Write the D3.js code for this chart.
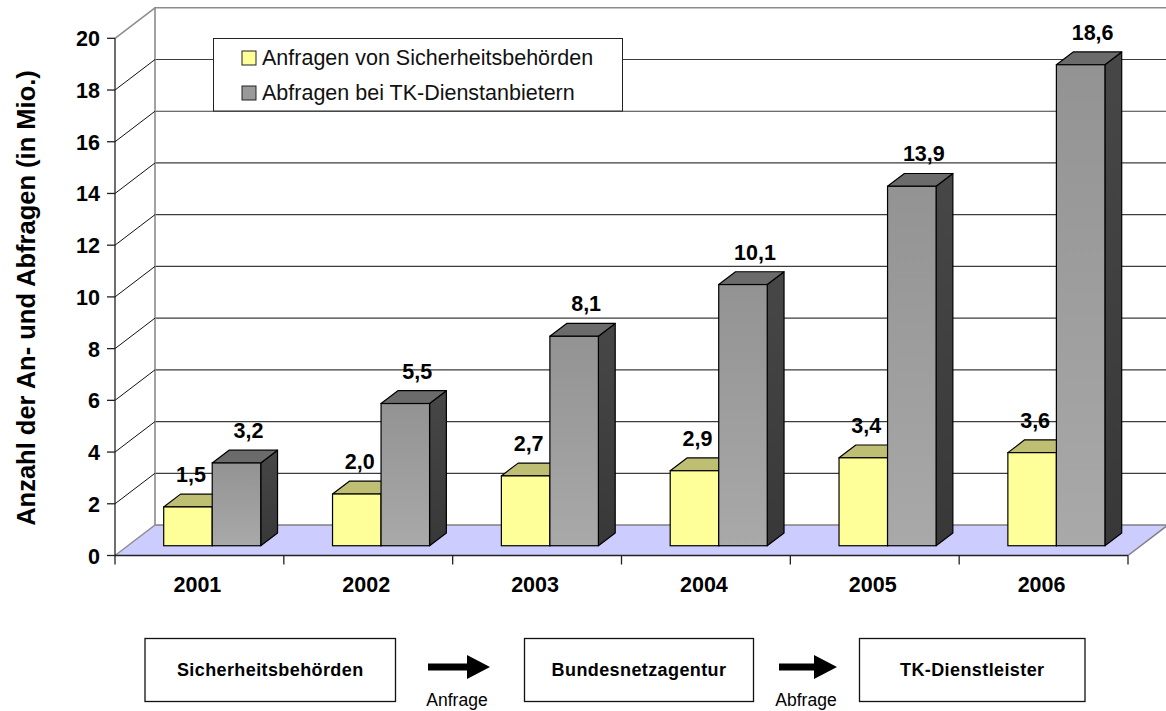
<!DOCTYPE html>
<html>
<head>
<meta charset="utf-8">
<script src="https://d3js.org/d3.v7.min.js"></script>
<style>
  body { margin: 0; background: #fff; }
  text { font-family: "Liberation Sans", Arial, sans-serif; }
</style>
</head>
<body>
<svg width="1166" height="711"></svg>
<script>
// data
const years = ['2001', '2002', '2003', '2004', '2005', '2006'];
const seriesNames = ['Anfragen von Sicherheitsbehörden', 'Abfragen bei TK-Dienstanbietern'];
const anfragen = [1.5, 2.0, 2.7, 2.9, 3.4, 3.6];
const abfragen = [3.2, 5.5, 8.1, 10.1, 13.9, 18.6];
const yTicks = [0, 2, 4, 6, 8, 10, 12, 14, 16, 18, 20];
const yTitle = 'Anzahl der An- und Abfragen (in Mio.)';
const flowBoxes = ['Sicherheitsbehörden', 'Bundesnetzagentur', 'TK-Dienstleister'];
const flowArrows = ['Anfrage', 'Abfrage'];

const svg = d3.select('svg');
const fmt = v => d3.format('.1f')(v).replace('.', ',');

// 3d projection: depth z in [0,1] shifts right and up
const DX = 40, DY = 30.5;
const proj = (x, y, z) => [x + DX * z, y - DY * z];

const x = d3.scaleBand().domain(years).range([115, 1128]).padding(0);
const xs = d3.scaleBand().domain([0, 1]).range([0, x.bandwidth()]).paddingInner(0).paddingOuter(0.74);
const y = d3.scaleLinear().domain([0, 20]).range([555.5, 38.3]);
const z0 = 0.32, z1 = 0.74;

const defs = svg.append('defs');
const gg = defs.append('linearGradient').attr('id', 'grayFront').attr('x1', 0).attr('y1', 0).attr('x2', 0).attr('y2', 1);
gg.append('stop').attr('offset', 0).attr('stop-color', '#939393');
gg.append('stop').attr('offset', 1).attr('stop-color', '#a9a9a9');
const gs = defs.append('linearGradient').attr('id', 'graySide').attr('x1', 0).attr('y1', 0).attr('x2', 0).attr('y2', 1);
gs.append('stop').attr('offset', 0).attr('stop-color', '#474747');
gs.append('stop').attr('offset', 1).attr('stop-color', '#383838');

const line = d3.line();

// floor
svg.append('path')
  .attr('d', line([proj(115, y(0), 0), proj(1128, y(0), 0), proj(1128, y(0), 1), proj(115, y(0), 1)]) + 'Z')
  .attr('fill', '#ccccff').attr('stroke', 'none');
svg.append('path').attr('d', line([proj(115, y(0), 1), proj(1128, y(0), 1)]))
  .attr('stroke', '#808080').attr('stroke-width', 1.5).attr('fill', 'none');
svg.append('path').attr('d', line([proj(1128, y(0), 0), proj(1128, y(0), 1)]))
  .attr('stroke', '#808080').attr('stroke-width', 1.5).attr('fill', 'none');

// back wall gridlines
const grid = svg.append('g');
yTicks.slice(1, -1).forEach(t => {
  grid.append('path').attr('d', line([proj(115, y(t), 1), proj(1128, y(t), 1)]))
    .attr('stroke', '#3c3c3c').attr('stroke-width', 1.2).attr('fill', 'none');
});
grid.append('path').attr('d', line([proj(115, y(0), 1), proj(115, y(20), 1), proj(1128, y(20), 1)]))
  .attr('stroke', '#8c8c8c').attr('stroke-width', 1.6).attr('fill', 'none');

// side wall depth lines
yTicks.forEach(t => {
  const gray = (t === 0 || t === 20);
  svg.append('path').attr('d', line([proj(115, y(t), 0), proj(115, y(t), 1)]))
    .attr('stroke', gray ? '#8c8c8c' : '#111').attr('stroke-width', gray ? 1.5 : 1).attr('fill', 'none');
});

// front axis
svg.append('path').attr('d', line([[115, y(20)], [115, y(0)], [1128, y(0)]]))
  .attr('stroke', '#222').attr('stroke-width', 1.3).attr('fill', 'none');
svg.append('g').selectAll('line').data(yTicks).join('line')
  .attr('x1', 107).attr('x2', 115).attr('y1', d => y(d)).attr('y2', d => y(d))
  .attr('stroke', '#222').attr('stroke-width', 1.3);
svg.append('g').selectAll('line').data(years.concat(['end'])).join('line')
  .attr('x1', (d, i) => 115 + i * x.bandwidth()).attr('x2', (d, i) => 115 + i * x.bandwidth())
  .attr('y1', y(0)).attr('y2', y(0) + 9)
  .attr('stroke', '#222').attr('stroke-width', 1.3);

svg.append('g').selectAll('text').data(yTicks).join('text')
  .attr('x', 100).attr('y', d => y(d) + 8)
  .attr('text-anchor', 'end').attr('font-weight', 'bold').attr('font-size', 21.5)
  .text(d => d);

svg.append('g').selectAll('text').data(years).join('text')
  .attr('x', d => x(d) + x.bandwidth() / 2 - 2).attr('y', 592)
  .attr('text-anchor', 'middle').attr('font-weight', 'bold').attr('font-size', 21.5)
  .text(d => d);

svg.append('text')
  .attr('transform', 'translate(35,298) rotate(-90)')
  .attr('text-anchor', 'middle').attr('font-weight', 'bold').attr('font-size', 25.5)
  .text(yTitle);

// legend (drawn over gridlines)
const lg = svg.append('g');
lg.append('rect').attr('x', 213.5).attr('y', 38.5).attr('width', 409).attr('height', 72.5)
  .attr('fill', '#fff').attr('stroke', '#222').attr('stroke-width', 1);
const legendFill = ['#ffff99', '#999999'];
seriesNames.forEach((s, i) => {
  lg.append('rect').attr('x', 242).attr('y', 51 + i * 35).attr('width', 14).attr('height', 14)
    .attr('fill', legendFill[i]).attr('stroke', '#222').attr('stroke-width', 1);
  lg.append('text').attr('x', 262).attr('y', 64.5 + i * 35).attr('font-size', 21.5).attr('fill', '#111')
    .text(s);
});

// bars
const series = [anfragen, abfragen];
const colors = [
  { front: '#ffff99', top: '#bfbf73', side: '#99994d' },
  { front: 'url(#grayFront)', top: '#6b6b6b', side: 'url(#graySide)' }
];
const bars = svg.append('g');
years.forEach((yr, i) => {
  series.forEach((vals, s) => {
    const v = vals[i];
    const xl = x(yr) + xs(s), xr = xl + xs.bandwidth();
    const c = colors[s];
    const poly = pts => line(pts) + 'Z';
    // side
    bars.append('path').attr('d', poly([proj(xr, y(0), z0), proj(xr, y(v), z0), proj(xr, y(v), z1), proj(xr, y(0), z1)]))
      .attr('fill', c.side).attr('stroke', '#000').attr('stroke-width', 1.2).attr('stroke-linejoin', 'round');
    // top
    bars.append('path').attr('d', poly([proj(xl, y(v), z0), proj(xr, y(v), z0), proj(xr, y(v), z1), proj(xl, y(v), z1)]))
      .attr('fill', c.top).attr('stroke', '#000').attr('stroke-width', 1.2).attr('stroke-linejoin', 'round');
    // front
    const p0 = proj(xl, y(v), z0), p1 = proj(xr, y(0), z0);
    bars.append('rect').attr('x', p0[0]).attr('y', p0[1]).attr('width', p1[0] - p0[0]).attr('height', p1[1] - p0[1])
      .attr('fill', c.front).attr('stroke', '#000').attr('stroke-width', 1.2);
  });
});

// value labels
const labelDx = [3, 12];
const labels = svg.append('g');
years.forEach((yr, i) => {
  series.forEach((vals, s) => {
    const v = vals[i];
    const p = proj(x(yr) + xs(s) + xs.bandwidth() / 2, y(v), z1);
    labels.append('text').attr('x', p[0] - (z1 - z0) * DX + labelDx[s]).attr('y', p[1] - 12)
      .attr('text-anchor', 'middle').attr('font-weight', 'bold').attr('font-size', 21.5)
      .text(fmt(v));
  });
});

// flow diagram below chart
const boxLayout = [[145, 395.5], [524.5, 753.5], [859.5, 1085]];
const arrowLayout = [[428, 490], [779, 837]];
const flow = svg.append('g');
flowBoxes.forEach((b, i) => {
  const [a, e] = boxLayout[i];
  flow.append('rect').attr('x', a).attr('y', 638.5).attr('width', e - a).attr('height', 63)
    .attr('fill', '#fff').attr('stroke', '#111').attr('stroke-width', 1.3);
  flow.append('text').attr('x', (a + e) / 2).attr('y', 676).attr('text-anchor', 'middle')
    .attr('font-weight', 'bold').attr('font-size', 18).attr('letter-spacing', 0.4).text(b);
});
flowArrows.forEach((t, i) => {
  const [a, tip] = arrowLayout[i];
  const cy = 667;
  flow.append('path')
    .attr('d', line([[a, cy - 3.5], [tip - 23, cy - 3.5], [tip - 23, cy - 12], [tip, cy], [tip - 23, cy + 12], [tip - 23, cy + 3.5], [a, cy + 3.5]]) + 'Z')
    .attr('fill', '#000');
  flow.append('text').attr('x', (a + tip) / 2 - 2).attr('y', 706).attr('text-anchor', 'middle')
    .attr('font-size', 17.5).text(t);
});
</script>
</body>
</html>
